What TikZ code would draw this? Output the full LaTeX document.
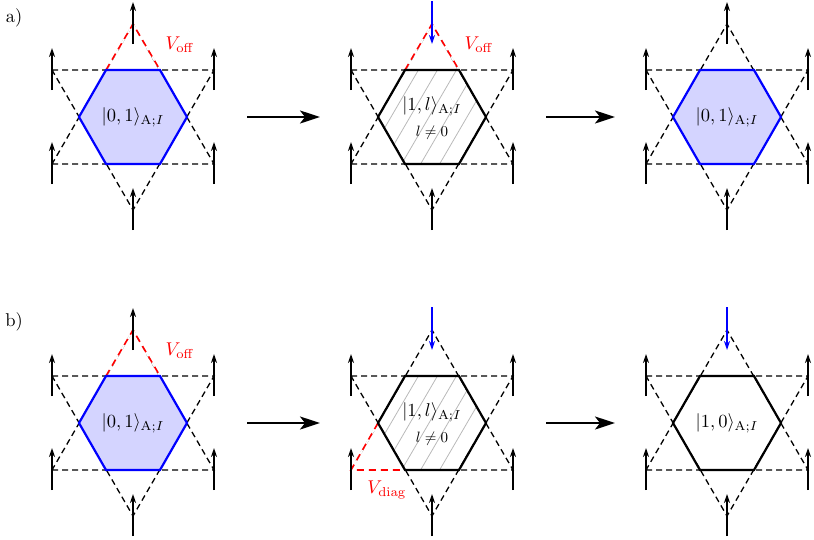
\documentclass[tikz,border=0pt]{standalone}
\usetikzlibrary{arrows.meta}
\begin{document}
\begin{tikzpicture}[x=1pt,y=-1pt,
  dsh/.style={line width=1.3pt,dash pattern=on 6pt off 4pt},
  rdsh/.style={red,line width=1.6pt,dash pattern=on 7pt off 5pt},
  spin/.style={-{Stealth[length=9pt,width=6pt]},line width=1.6pt},
  hexb/.style={line width=2.2pt},
  big/.style={-{Stealth[length=20pt,width=13pt,inset=5pt]},line width=2.2pt},
  lab/.style={scale=1.85},
  sml/.style={scale=1.5}]
\useasboundingbox (0,0) rectangle (814,539);
\newcommand\mypanel[6]{%
  \begin{scope}[shift={(#1,#2)}]
   \coordinate (#3h1) at (-54,0); \coordinate (#3h2) at (-27,-47);
   \coordinate (#3h3) at (27,-47); \coordinate (#3h4) at (54,0);
   \coordinate (#3h5) at (27,47); \coordinate (#3h6) at (-27,47);
   \coordinate (#3t) at (0,-93); \coordinate (#3b) at (0,93);
   \coordinate (#3ul) at (-81,-47); \coordinate (#3ur) at (81,-47);
   \coordinate (#3ll) at (-81,47); \coordinate (#3lr) at (81,47);
   \draw[dsh] (#3ul) -- (#3ur) -- (#3b) -- cycle;
   \draw[dsh] (#3ll) -- (#3lr) -- (#3t) -- cycle;
   #6
   \foreach \p in {ul,ur,ll,lr,b}{\draw[spin] ([yshift=-20]#3\p) -- ([yshift=22]#3\p);}
   #5
   \draw[#4] (#3h1) -- (#3h2) -- (#3h3) -- (#3h4) -- (#3h5) -- (#3h6) -- cycle;
  \end{scope}}
\newcommand\upspin[1]{\draw[spin] ([yshift=-20]#1t) -- ([yshift=22]#1t);}
\newcommand\dnspin[1]{\draw[spin,blue] ([yshift=23]#1t) -- ([yshift=-20]#1t);}
\newcommand\hatch[1]{\begin{scope}\clip (#1h1) -- (#1h2) -- (#1h3) -- (#1h4) -- (#1h5) -- (#1h6) -- cycle;
  \foreach \k in {-8,...,6}{\draw[gray!55,line width=0.8pt] (\k*19,60) -- ++(70,-120);}\end{scope}}
\newcommand\voff[1]{\draw[white,line width=1.8pt] (#1h2) -- (#1t) -- (#1h3);\draw[rdsh] (#1h2) -- (#1t) -- (#1h3);}
% row a
\mypanel{133}{117}{A}{hexb,blue,fill=blue!17}{\upspin{A}}{\voff{A}}
\mypanel{432}{117}{B}{hexb}{\dnspin{B}}{\voff{B}\hatch{B}}
\mypanel{727}{117}{C}{hexb,blue,fill=blue!17}{\upspin{C}}{}
% row b
\mypanel{133}{423}{D}{hexb,blue,fill=blue!17}{\upspin{D}}{\voff{D}}
\mypanel{432}{423}{E}{hexb}{\dnspin{E}}{\draw[white,line width=1.8pt] (Eh1) -- (Ell) -- (Eh6);\draw[rdsh] (Eh1) -- (Ell) -- (Eh6);\hatch{E}}
\mypanel{727}{423}{F}{hexb}{\dnspin{F}}{}
% labels
\node[lab] (la) at (133,117) {$|0,1\rangle_{\mathrm{A};I}$};
\node[lab] (lb) at (432,106) {$|1,l\rangle_{\mathrm{A};I}$};
\node[sml] (lbb) at (432,133) {$l\neq 0$};
\node[lab] (lc) at (727,117) {$|0,1\rangle_{\mathrm{A};I}$};
\node[lab] (ld) at (133,423) {$|0,1\rangle_{\mathrm{A};I}$};
\node[lab] (le) at (432,412) {$|1,l\rangle_{\mathrm{A};I}$};
\node[sml] (lee) at (432,439) {$l\neq 0$};
\node[lab] (lf) at (727,423) {$|1,0\rangle_{\mathrm{A};I}$};
\node[lab,red] (v1) at (180,45) {$V_{\mathrm{off}}$};
\node[lab,red] (v2) at (479,45) {$V_{\mathrm{off}}$};
\node[lab,red] (v3) at (180,351) {$V_{\mathrm{off}}$};
\node[lab,red] (v4) at (387,490) {$V_{\mathrm{diag}}$};
\node[lab] (pa) at (14,18) {a)};
\node[lab] (pb) at (14,322) {b)};
% big arrows
\coordinate (a1s) at (247,117); \coordinate (a1e) at (320,117);
\coordinate (a2s) at (546,117); \coordinate (a2e) at (615,117);
\coordinate (a3s) at (247,423); \coordinate (a3e) at (320,423);
\coordinate (a4s) at (546,423); \coordinate (a4e) at (615,423);
\draw[big] (a1s) -- (a1e); \draw[big] (a2s) -- (a2e);
\draw[big] (a3s) -- (a3e); \draw[big] (a4s) -- (a4e);
\end{tikzpicture}
\end{document}
